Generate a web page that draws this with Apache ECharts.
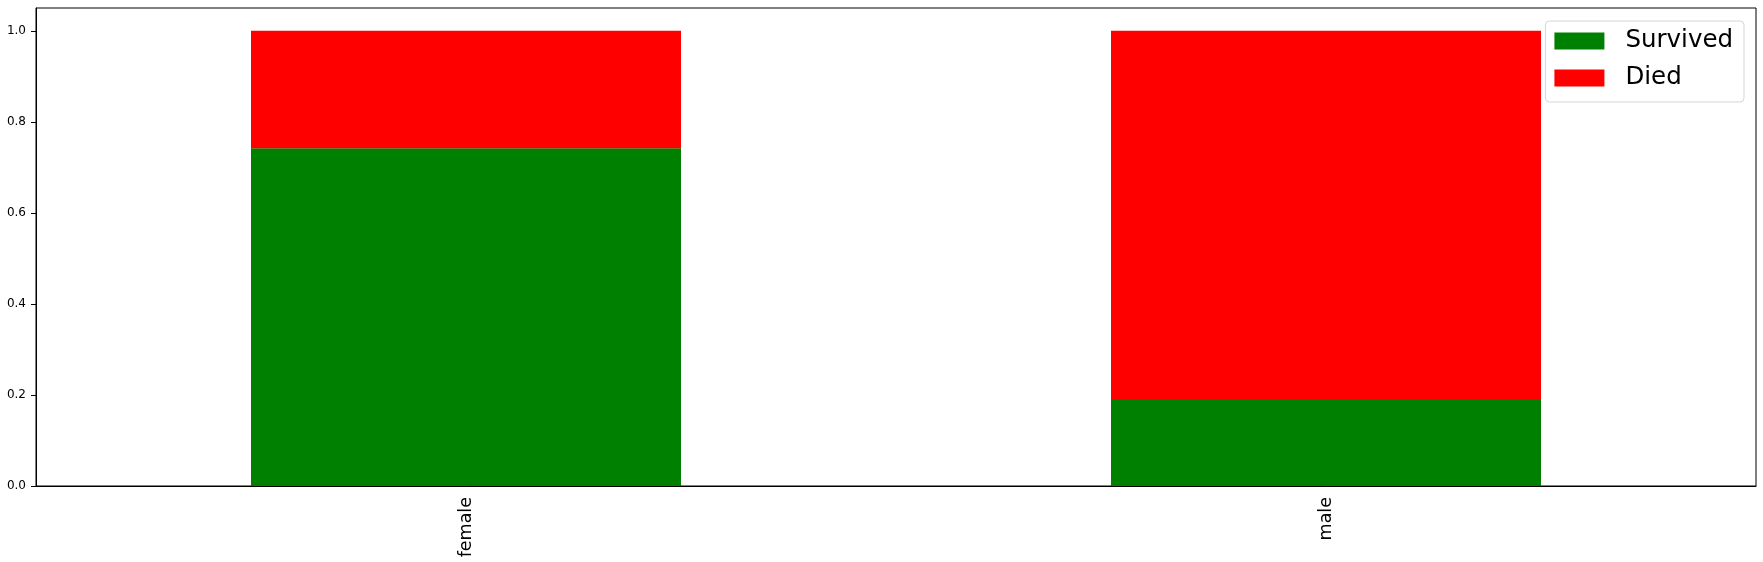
<!DOCTYPE html>
<html>
<head>
<meta charset="utf-8">
<script src="https://cdn.jsdelivr.net/npm/echarts@6/dist/echarts.min.js"></script>
<style>
html,body{margin:0;padding:0;background:#fff;}
#chart{width:1763px;height:562px;}
</style>
</head>
<body>
<div id="chart"></div>
<script>
const categories = ['female', 'male'];
const survived = [0.742, 0.189];
const died = [0.258, 0.811];
const yTicks = [0, 0.2, 0.4, 0.6, 0.8, 1.0];
const xAxisName = 'Sex';

const chart = echarts.init(document.getElementById('chart'), null, {renderer: 'canvas'});
const font = 'DejaVu Sans';
chart.setOption({
  animation: false,
  backgroundColor: '#ffffff',
  grid: {
    left: 36, right: 7, top: 8, bottom: 76,
    containLabel: false, outerBoundsMode: 'none',
    show: true, borderColor: '#000', borderWidth: 1, backgroundColor: 'transparent'
  },
  legend: {
    orient: 'vertical',
    right: 19, top: 21,
    padding: [5, 11, 9, 9],
    itemWidth: 50, itemHeight: 17, itemGap: 7,
    borderColor: '#d5d5d5', borderWidth: 1, borderRadius: 4,
    backgroundColor: 'rgba(255,255,255,0.8)',
    icon: 'rect',
    textStyle: {fontFamily: font, fontSize: 24.5, color: '#000', lineHeight: 30, padding: [0, 0, 0, 16]},
    data: ['Survived', 'Died']
  },
  xAxis: {
    type: 'category',
    data: categories,
    name: xAxisName,
    nameLocation: 'middle',
    nameGap: 74,
    nameTextStyle: {fontFamily: font, fontSize: 17, color: '#000'},
    axisLine: {lineStyle: {color: '#000', width: 1}},
    axisTick: {alignWithLabel: true, inside: false, length: 5, lineStyle: {color: '#000'}},
    axisLabel: {rotate: 90, margin: 11, fontFamily: font, fontSize: 17.5, color: '#000'},
    splitLine: {show: false}
  },
  yAxis: {
    type: 'value',
    min: 0, max: 1.05,
    axisLine: {show: true, lineStyle: {color: '#000', width: 1}},
    axisTick: {show: true, inside: false, length: 5, customValues: yTicks, lineStyle: {color: '#000'}},
    axisLabel: {margin: 10, fontFamily: font, fontSize: 12, color: '#000', customValues: yTicks,
      formatter: v => v.toFixed(1)},
    splitLine: {show: false}
  },
  series: [
    {name: 'Survived', type: 'bar', stack: 'total', data: survived, barWidth: '50%',
      itemStyle: {color: '#008000'}},
    {name: 'Died', type: 'bar', stack: 'total', data: died, barWidth: '50%',
      itemStyle: {color: '#ff0000'}}
  ]
});
</script>
</body>
</html>
